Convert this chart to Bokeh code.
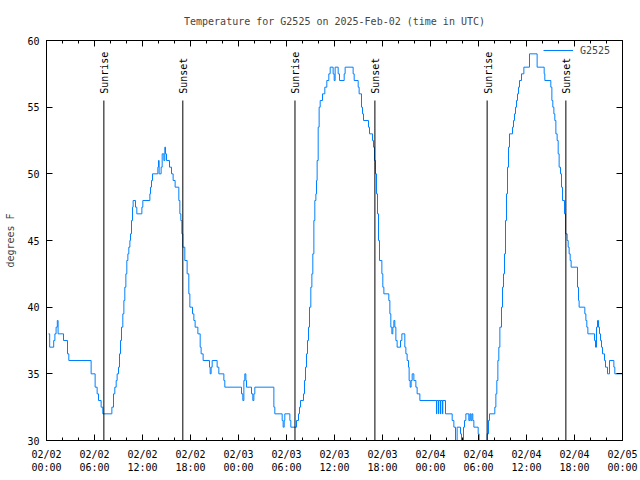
import math
from bokeh.plotting import figure
from bokeh.models import FixedTicker, Range1d, LinearAxis, Legend, LegendItem
from bokeh.core.properties import value
from bokeh.embed import file_html
from bokeh.resources import INLINE

# hours since 2025-02-02 00:00 UTC, temperature (F) held until the next sample
hours = [0.25, 0.4, 0.9, 1.05, 1.2, 1.35, 1.45, 2.125, 2.625, 2.79, 5.58, 6.08, 6.33, 6.5, 6.83, 7.04,
         8.17, 8.375, 8.54, 8.71, 8.83, 9.0, 9.125, 9.25, 9.375, 9.54, 9.67, 9.79, 9.92, 10.04, 10.17,
         10.29, 10.42, 10.5, 10.625, 10.75, 10.83, 11.125, 11.29, 11.92, 12.04, 12.92, 13.0, 13.125,
         13.25, 13.92, 14.0, 14.08, 14.33, 14.46, 14.67, 14.79, 14.875, 15.0, 15.375, 15.625, 15.83,
         16.08, 16.54, 16.67, 16.79, 16.92, 17.04, 17.29, 17.58, 17.79, 17.92, 18.25, 18.42, 18.58,
         18.92, 19.21, 19.33, 19.58, 20.375, 20.46, 20.58, 20.71, 21.33, 21.54, 22.17, 22.29,
         24.375, 24.54, 24.67, 24.79, 24.92, 25.0, 25.625, 25.79, 25.92, 26.04, 28.42, 28.54, 29.46,
         29.58, 29.71, 29.79, 30.42, 30.54, 31.25, 31.5, 31.625, 31.75, 32.125, 32.25, 32.375, 32.5,
         32.625, 32.75, 32.875, 33.04, 33.17, 33.29, 33.42, 33.54, 33.67, 33.75, 33.83, 33.96, 34.08,
         34.21, 34.5, 34.79, 35.04, 35.29, 35.46, 35.83, 35.96, 36.08, 36.46, 36.625, 37.21, 37.33,
         38.33, 38.46, 38.96, 39.08, 39.375, 39.5, 39.625, 40.25, 40.375, 40.75, 40.875, 41.0, 41.125,
         41.25, 41.375, 41.5, 41.625, 41.92, 42.04, 42.17, 42.79, 42.92, 43.04, 43.17, 43.29, 43.42,
         43.54, 43.67, 43.83, 44.25, 44.42, 44.79, 44.92, 45.08, 45.25, 45.33, 45.46, 45.58, 45.71,
         45.92, 46.17, 46.33, 46.67, 48.75, 48.79, 49.0, 49.04, 49.25, 49.29, 49.5, 49.54, 49.875,
         50.71, 50.92, 51.125, 51.33, 51.75, 51.875, 52.125, 52.25, 52.42, 52.79, 52.92, 53.04, 53.17,
         53.29, 53.42, 53.96, 54.08, 55.08, 55.25, 55.375, 56.04, 56.17, 56.29, 56.42, 56.54, 56.67,
         56.875, 57.0, 57.125, 57.25, 57.375, 57.5, 57.625, 57.75, 57.875, 58.25, 58.375, 58.5, 58.625,
         58.75, 58.875, 59.0, 59.125, 59.375, 59.67, 60.375, 61.33, 62.21, 62.29, 63.04, 63.17, 63.29,
         63.42, 63.54, 63.67, 63.83, 63.96, 64.08, 64.25, 64.375, 64.5, 64.75, 64.875, 65.08, 65.21,
         65.33, 65.46, 65.58, 66.375, 66.5, 66.58, 67.29, 67.42, 67.54, 67.67, 68.5, 68.625, 68.75,
         68.875, 69.0, 69.125, 69.25, 69.375, 69.5, 69.75, 69.875, 70.125, 70.375, 70.92, 71.04, 72.0]
temps = [38, 37, 37.5, 38, 38.5, 39, 38, 37.5, 36.5, 36, 35, 34, 33.5, 33, 32.5, 32,
         32.5, 33.5, 34, 34.5, 35, 35.5, 36.5, 37.5, 38.5, 39.5, 40.5, 41.5, 42.5, 43.5, 44,
         44.5, 45, 45.5, 46.5, 47.5, 48, 47.5, 47, 47.5, 48, 48.5, 49, 49.5,
         50, 50.5, 51, 50, 50.5, 51.5, 51, 52, 51.5, 51, 50.5, 50, 49.5,
         49, 48, 47, 46.5, 45.5, 44.5, 43.5, 42.5, 41, 40, 39.5, 39, 38.5,
         38, 37, 36.5, 36, 35.5, 35, 35.5, 36, 35.5, 35, 34.5, 34,
         33.5, 33, 34.5, 35, 34.5, 34, 33.5, 33, 33.5, 34, 32.5, 32, 31.5,
         31, 31.5, 32, 31.5, 31, 31.5, 32, 32.5, 33, 33.5, 34.5, 35.5, 36.5,
         37.5, 38.5, 40, 41.5, 42.5, 44, 46.5, 48, 48.5, 49.5, 51, 53.5, 55,
         55.5, 56, 56.5, 57, 57.5, 58, 57.5, 57, 58, 57.5, 57, 57.5, 58,
         57.5, 57, 56.5, 56, 55, 54.5, 54, 53.5, 53, 52.5, 52, 51, 50,
         48.5, 47, 45, 43.5, 42.5, 41.5, 41, 40.5, 39.5, 38.5, 38, 38.5, 39,
         38.5, 37.5, 37, 37.5, 38, 37, 36.5, 36, 35.5, 34.5, 34, 34.5, 35,
         34.5, 34, 33.5, 33, 32, 33, 32, 33, 32, 33, 32, 33, 32,
         31.5, 31, 30, 31, 30.5, 30, 31, 31.5, 32, 31.5, 32, 31.5, 32,
         31.5, 31, 30.5, 29.5, 30.5, 31.5, 32, 32.5, 33.5, 34.5, 36, 37, 38.5,
         40, 41.5, 42.5, 44, 46.5, 48.5, 50.5, 52, 53, 53.5, 54, 54.5, 55,
         55.5, 56, 56.5, 57, 57.5, 58, 59, 58, 57.5, 57, 56.5, 55.5, 55,
         54.5, 54, 53, 52.5, 51.5, 50.5, 50, 49, 48, 47, 45.5, 45, 44.5,
         44, 43.5, 43, 41.5, 40.5, 40, 39.5, 39, 38.5, 38, 37.5, 37, 38.5,
         39, 38.5, 38, 37.5, 37, 36.5, 36, 35.5, 35, 36, 35.5, 35, 35]

sun_event_hours = [7.17, 17.04, 31.06, 41.05, 55.08, 64.92]
sun_event_labels = ["Sunrise", "Sunset", "Sunrise", "Sunset", "Sunrise", "Sunset"]

x_ticks = [0, 6, 12, 18, 24, 30, 36, 42, 48, 54, 60, 66, 72]
x_minor_ticks = list(range(0, 73, 2))
x_tick_labels = ["02/02\n00:00", "02/02\n06:00", "02/02\n12:00", "02/02\n18:00",
                 "02/03\n00:00", "02/03\n06:00", "02/03\n12:00", "02/03\n18:00",
                 "02/04\n00:00", "02/04\n06:00", "02/04\n12:00", "02/04\n18:00",
                 "02/05\n00:00"]
y_ticks = [30, 35, 40, 45, 50, 55, 60]

FONT = "DejaVu Sans Mono"
FS = "10px"
BLUE = "#0080ff"

p = figure(width=640, height=480, x_range=Range1d(0, 72), y_range=Range1d(30, 60),
           output_backend="svg", toolbar_location=None,
           min_border_left=46, min_border_right=18, min_border_top=40, min_border_bottom=40,
           title="Temperature for G2525 on 2025-Feb-02 (time in UTC)")
p.title.align = "center"
p.title.text_font = FONT
p.title.text_font_size = FS
p.title.text_font_style = "normal"
p.title.standoff = 27
p.xgrid.visible = False
p.ygrid.visible = False
p.outline_line_color = "black"
p.background_fill_color = "white"
p.border_fill_color = "white"

xt = FixedTicker(ticks=x_ticks, minor_ticks=x_minor_ticks)
yt = FixedTicker(ticks=y_ticks, minor_ticks=[])

def style_axis(ax, ticker, labels=True):
    ax.ticker = ticker
    ax.axis_line_color = "black"
    ax.major_tick_line_color = "black"
    ax.minor_tick_line_color = "black"
    ax.major_tick_in = 6
    ax.major_tick_out = 0
    ax.minor_tick_in = 3
    ax.minor_tick_out = 0
    ax.major_label_text_font = FONT
    ax.major_label_text_font_size = FS
    ax.major_label_text_color = "black"
    if not labels:
        ax.major_label_overrides = {t: "" for t in ticker.ticks}
        ax.major_label_standoff = 0

style_axis(p.xaxis[0], xt)
p.xaxis[0].major_label_overrides = dict(zip(x_ticks, x_tick_labels))
p.xaxis[0].major_label_standoff = 8
style_axis(p.yaxis[0], yt)
p.yaxis[0].major_label_standoff = 7
p.yaxis[0].axis_label = "degrees F"
p.yaxis[0].axis_label_text_font = FONT
p.yaxis[0].axis_label_text_font_size = FS
p.yaxis[0].axis_label_text_font_style = "normal"
p.yaxis[0].axis_label_standoff = 8

top = LinearAxis()
style_axis(top, xt, labels=False)
p.add_layout(top, "above")
right = LinearAxis()
style_axis(right, yt, labels=False)
p.add_layout(right, "right")

r = p.step(hours, temps, mode="after", line_color=BLUE, line_width=1)

p.segment(x0=sun_event_hours, y0=30, x1=sun_event_hours, y1=55.5, line_color="black", line_width=1)
p.text(x=sun_event_hours, y=56.0, text=sun_event_labels, angle=math.pi / 2,
       text_align="left", text_baseline="middle", text_font=value(FONT),
       text_font_size=FS, text_color="black", x_offset=1)

legend = Legend(items=[LegendItem(label="G2525", renderers=[r])], location="top_right",
                margin=0, padding=4, glyph_width=30, glyph_height=12, label_height=12,
                label_width=38, label_standoff=7, background_fill_alpha=0, border_line_alpha=0,
                label_text_font=FONT, label_text_font_size=FS)
p.add_layout(legend)

open("out.html", "w").write(file_html(p, INLINE))
